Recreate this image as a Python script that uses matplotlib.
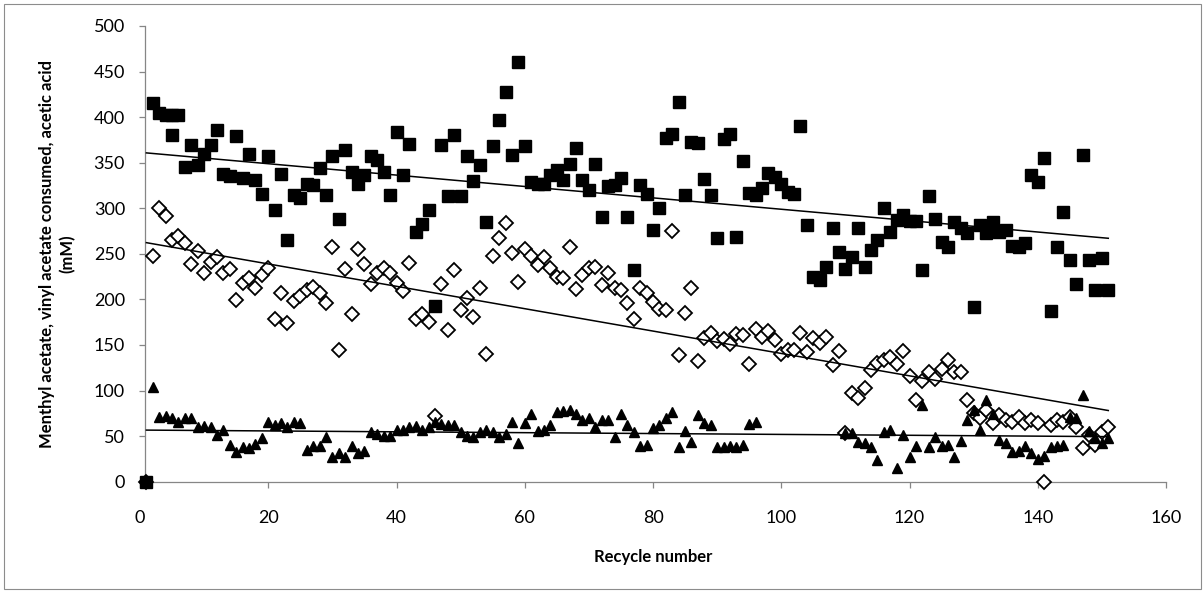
import matplotlib
matplotlib.use("Agg")
import matplotlib.pyplot as plt
import numpy as np
from matplotlib.patches import Rectangle

# ---- data ----
sq_x = [1, 2, 3, 4, 5, 5] + list(range(6, 152))
sq_y = [0, 415, 405, 402, 402, 380,
        402, 345, 369, 347, 360, 369, 386, 338, 335, 379, 333, 360, 331, 316, 357,
        298, 338, 265, 315, 311, 327, 326, 344, 315, 357,
        288, 364, 340, 327, 337, 357, 353, 340, 315, 384,
        336, 371, 274, 283, 298, 193, 369, 313, 380, 313,
        357, 330, 347, 285, 368, 397, 428, 359, 461, 368,
        329, 327, 327, 337, 342, 331, 349, 366, 331, 320,
        349, 290, 324, 326, 333, 290, 232, 326, 316, 276,
        300, 377, 382, 417, 315, 373, 372, 332, 315, 267,
        376, 382, 268, 352, 317, 315, 322, 339, 334, 327,
        318, 316, 390, 282, 225, 221, 236, 278, 252, 233,
        247, 278, 236, 254, 265, 300, 274, 287, 293, 286,
        286, 232, 314, 288, 263, 258, 285, 278, 273, 192,
        282, 273, 285, 274, 276, 259, 258, 262, 337, 329,
        355, 187, 257, 296, 243, 217, 358, 243, 210, 245, 210]

dia_x = list(range(1, 152))
dia_y = [0, 248, 300, 291, 265, 270, 262, 239, 253, 229,
         241, 247, 229, 233, 199, 218, 224, 213, 227, 234,
         179, 207, 174, 198, 204, 210, 214, 207, 196, 257,
         145, 233, 184, 255, 239, 217, 229, 235, 229, 218,
         209, 240, 179, 184, 175, 72, 217, 166, 232, 188,
         202, 181, 213, 140, 248, 267, 284, 251, 219, 255,
         248, 238, 246, 235, 225, 224, 257, 211, 227, 234,
         236, 216, 229, 212, 210, 196, 178, 213, 207, 197,
         189, 188, 275, 139, 185, 212, 132, 158, 163, 154,
         157, 151, 162, 161, 129, 167, 159, 165, 156, 140,
         144, 144, 163, 142, 158, 152, 159, 128, 143, 53,
         97, 92, 103, 123, 130, 134, 137, 129, 143, 116,
         90, 111, 120, 113, 124, 134, 120, 120, 90, 75,
         70, 79, 64, 73, 68, 66, 71, 64, 68, 64,
         0, 62, 68, 65, 71, 60, 37, 51, 40, 55, 60]

tri_x = list(range(1, 97)) + list(range(110, 152))
tri_y = [0, 104, 71, 72, 70, 66, 70, 70, 60, 61,
         60, 51, 57, 40, 33, 38, 37, 41, 48, 65,
         62, 64, 60, 65, 64, 35, 39, 39, 49, 27,
         32, 27, 39, 32, 34, 55, 52, 50, 50, 57,
         57, 60, 61, 57, 60, 65, 63, 62, 62, 54,
         50, 49, 54, 57, 55, 49, 52, 65, 43, 64,
         74, 56, 57, 62, 76, 78, 79, 74, 68, 70,
         60, 68, 68, 49, 74, 62, 54, 39, 40, 59,
         62, 70, 76, 38, 56, 44, 73, 64, 62, 38,
         38, 39, 38, 40, 63, 65,
         53, 53, 44, 43, 38, 24, 55, 57, 15, 51,
         27, 39, 84, 38, 49, 39, 40, 27, 45, 68,
         79, 57, 90, 74, 46, 43, 33, 34, 39, 32,
         25, 28, 38, 39, 40, 71, 70, 95, 56, 48,
         43, 48]

x_ticks = [0, 20, 40, 60, 80, 100, 120, 140, 160]
y_ticks = [0, 50, 100, 150, 200, 250, 300, 350, 400, 450, 500]
x_label = "Recycle number"
y_label = "Menthyl acetate, vinyl acetate consumed, acetic acid\n(mM)"

# ---- figure ----
plt.rcParams['font.family'] = ['Lato', 'DejaVu Sans']
W, H = 1204, 592
fig = plt.figure(figsize=(W / 100, H / 100), dpi=100)
fig.patches.append(Rectangle((4 / W, 3 / H), 1197 / W, 585 / H, transform=fig.transFigure,
                             fill=False, edgecolor='#8c8c8c', linewidth=0.8))

ax = fig.add_axes([140 / W, 110.3 / H, 1026 / W, 455.7 / H])
ax.set_xlim(0, 160)
ax.set_ylim(0, 500)

ax.plot(dia_x, dia_y, linestyle='none', marker='D', markersize=6.8,
        markerfacecolor='white', markeredgecolor='black', markeredgewidth=1.3,
        clip_on=False, zorder=3)
ax.plot(tri_x, tri_y, linestyle='none', marker='^', markersize=6.5,
        color='black', clip_on=False, zorder=4)
ax.plot(sq_x, sq_y, linestyle='none', marker='s', markersize=9.3,
        color='black', clip_on=False, zorder=5)

# linear trend lines
for xs, ys in ((sq_x, sq_y), (dia_x, dia_y), (tri_x, tri_y)):
    xs_a = np.asarray(xs, float)
    ys_a = np.asarray(ys, float)
    k, b = np.polyfit(xs_a, ys_a, 1)
    xx = np.array([xs_a.min(), xs_a.max()])
    ax.plot(xx, k * xx + b, color='black', linewidth=1.1, zorder=6)

for s in ('top', 'right'):
    ax.spines[s].set_visible(False)
gray = '#868686'
ax.spines['left'].set_position(('data', 0.8))
ax.spines['left'].set_color(gray)
ax.spines['bottom'].set_color(gray)
ax.spines['bottom'].set_bounds(0.8, 160)
ax.spines['left'].set_linewidth(0.9)
ax.spines['bottom'].set_linewidth(0.9)

ax.set_xticks(x_ticks)
ax.set_yticks(y_ticks)
ax.tick_params(axis='y', direction='out', length=4.5, width=0.9, color=gray,
               labelsize=13, pad=10, labelcolor='black')
ax.tick_params(axis='x', direction='out', length=4.5, width=0.9, color=gray,
               labelsize=13, pad=16, labelcolor='black')

fig.text(653 / W, 1 - 557 / H, x_label, ha='center', va='center',
         fontsize=12, fontweight='bold')
fig.text(57 / W, 1 - 254 / H, y_label, ha='center', va='center', rotation=90,
         fontsize=12, fontweight='bold', multialignment='center', linespacing=1.35)

fig.savefig("out.png", dpi=100)
